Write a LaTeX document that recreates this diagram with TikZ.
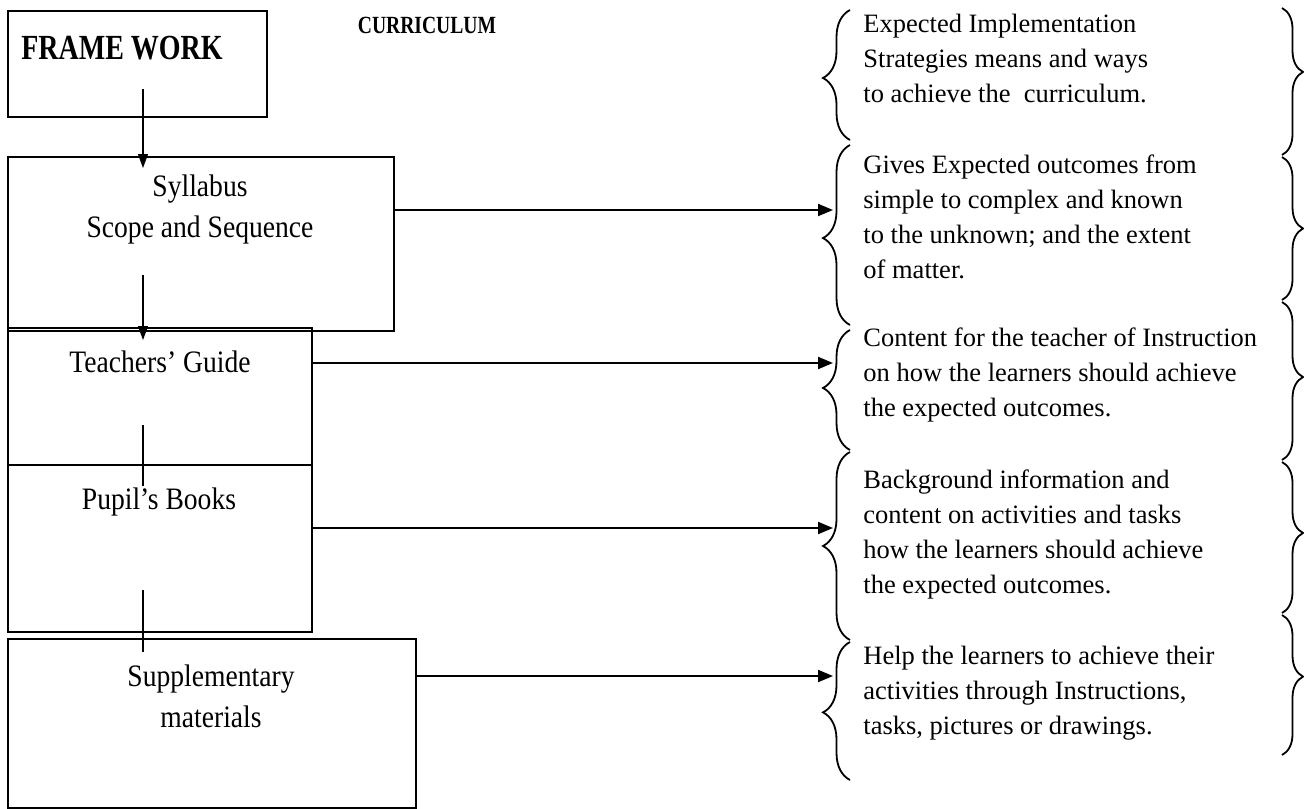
\documentclass[tikz,border=0pt]{standalone}
\usepackage{fontspec}
\setmainfont{Liberation Serif}
\usepackage{tikz}
\usetikzlibrary{arrows.meta, positioning, decorations.pathreplacing}

% tall narrow lettering as in the boxes
\newcommand\tallr[1]{\scalebox{1}[1.13]{#1}}
\newcommand\tallb[1]{\scalebox{1}[1.26]{#1}}

\begin{document}
\begin{tikzpicture}[x=0.5pt, y=-0.5pt,
  box/.style={draw, line width=1pt, anchor=north west, inner sep=0pt},
  boxtxt/.style={font=\fontsize{13.8}{20.5}\selectfont, align=center, inner sep=0pt},
  note/.style={anchor=west, align=left, inner sep=0pt, font=\fontsize{13.25}{17.5}\selectfont},
  varr/.style={-{Triangle[length=7pt, width=5pt]}, line width=0.65pt},
  vline/.style={line width=0.65pt},
  harr/.style={-{Triangle[length=7.5pt, width=6pt]}, line width=1pt},
  lbrace/.style={decorate, decoration={brace, amplitude=13.5pt, aspect=#1}, line width=0.9pt},
  lbrace/.default=0.5,
  rbrace/.style={decorate, decoration={brace, amplitude=10.5pt, aspect=#1}, line width=0.9pt},
  rbrace/.default=0.5
]
  \useasboundingbox (0,0) rectangle (1304,808);

  % left column
  \node[box, minimum width=129.5pt, minimum height=53pt] (fw) at (7,10) {};
  \node[box, minimum width=193pt, minimum height=87pt] (syl) at (7,156) {};
  \node[box, minimum width=152pt, minimum height=68.5pt] (tg) at (7,327) {};
  \node[box, minimum width=152pt, minimum height=83.5pt] (pb) at (7,464) {};
  \node[box, minimum width=204pt, minimum height=84.5pt] (sup) at (7,638) {};

  \node[font=\fontsize{14}{16}\selectfont\bfseries, inner sep=0pt] (fwtxt) at (122,48) {\tallb{FRAME WORK}};
  \node[font=\fontsize{9.8}{12}\selectfont\bfseries, inner sep=0pt] (cur) at (427,25) {\tallb{CURRICULUM}};
  \node[boxtxt] (syltxt) at (200,209) {\tallr{Syllabus}\\\tallr{Scope and Sequence}};
  \node[boxtxt] (tgtxt) at (160,362) {\tallr{Teachers’ Guide}};
  \node[boxtxt] (pbtxt) at (159,502) {\tallr{Pupil’s Books}};
  \node[boxtxt] (suptxt) at (211,696) {\tallr{Supplementary}\\\tallr{materials}};

  \coordinate (spine) at (143,0);
  \draw[varr] ([yshift=14.5pt]fw.south -| spine) -- ([yshift=-6pt]syl.north -| spine);
  \draw[varr] ([yshift=28.5pt]syl.south -| spine) -- ([yshift=-6.5pt]tg.north -| spine);
  \draw[vline] ([yshift=20.5pt]tg.south -| spine) -- ([yshift=-11pt]pb.north -| spine);
  \draw[vline] ([yshift=21.5pt]pb.south -| spine) -- ([yshift=-7pt]sup.north -| spine);

  % right column
  \node[note] (n1) at (863,58) {Expected Implementation\\Strategies means and ways\\to achieve the\ \ curriculum.};
  \node[note] (n2) at (863,217) {Gives Expected outcomes from\\simple to complex and known\\to the unknown; and the extent\\of matter.};
  \node[note] (n3) at (863,375) {Content for the teacher of Instruction\\on how the learners should achieve\\the expected outcomes.};
  \node[note] (n4) at (863,534) {Background information and\\content on activities and tasks\\how the learners should achieve\\the expected outcomes.};
  \node[note] (n5) at (863,693) {Help the learners to achieve their\\activities through Instructions,\\tasks, pictures or drawings.};

  \draw[lbrace=0.477] (850,140) -- (850,10);
  \draw[lbrace=0.483] (850,325) -- (850,145);
  \draw[lbrace=0.517] (850,450) -- (850,330);
  \draw[lbrace=0.5] (850,640) -- (850,452);
  \draw[lbrace=0.49] (850,780) -- (850,642);

  \draw[rbrace=0.435] (1282,8) -- (1282,155);
  \draw[rbrace=0.5] (1282,157) -- (1282,300);
  \draw[rbrace=0.475] (1282,302) -- (1282,460);
  \draw[rbrace=0.47] (1282,462) -- (1282,613);
  \draw[rbrace=0.44] (1282,615) -- (1282,755);

  \coordinate (t2) at (833,210);
  \coordinate (t3) at (833,363);
  \coordinate (t4) at (833,528);
  \coordinate (t5) at (833,676);
  \draw[harr] (syl.east |- t2) -- (t2);
  \draw[harr] (tg.east |- t3) -- (t3);
  \draw[harr] (pb.east |- t4) -- (t4);
  \draw[harr] (sup.east |- t5) -- (t5);
\end{tikzpicture}
\end{document}
